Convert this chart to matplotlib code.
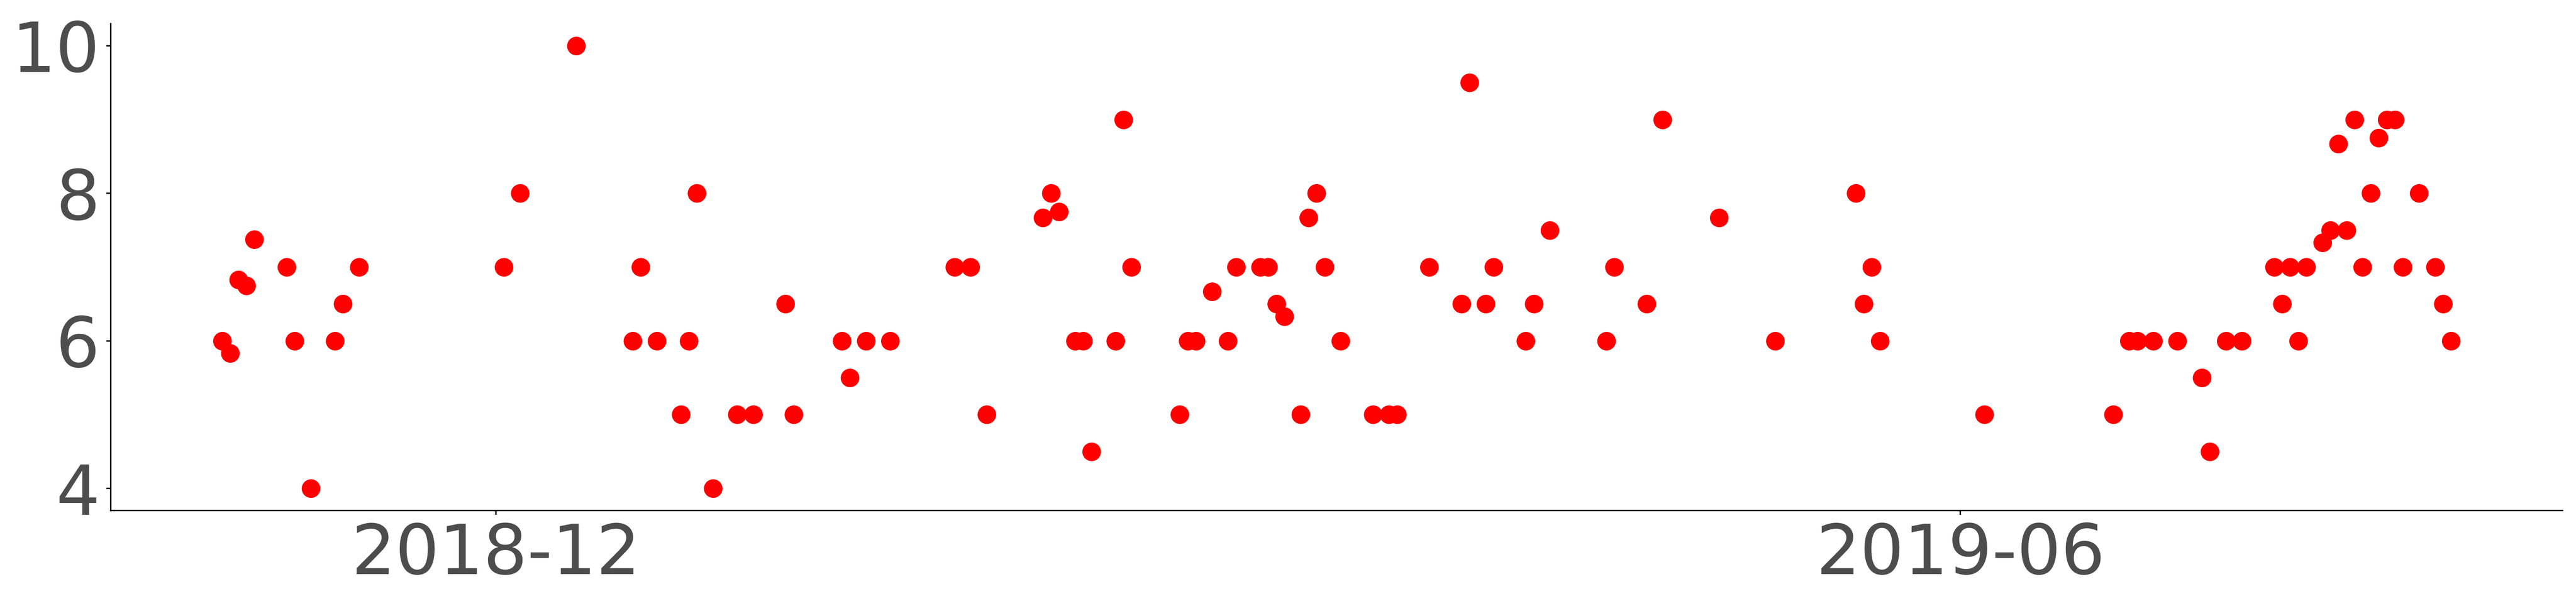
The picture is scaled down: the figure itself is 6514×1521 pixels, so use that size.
import matplotlib
matplotlib.use("Agg")
import matplotlib.pyplot as plt
import matplotlib.dates as mdates
import pandas as pd

dates = [
    "2018-10-28", "2018-10-29", "2018-10-30", "2018-10-31", "2018-11-01",
    "2018-11-05", "2018-11-06", "2018-11-08", "2018-11-11", "2018-11-12",
    "2018-11-14", "2018-12-02", "2018-12-04", "2018-12-11", "2018-12-18",
    "2018-12-19", "2018-12-21", "2018-12-24", "2018-12-25", "2018-12-26",
    "2018-12-28", "2018-12-31", "2019-01-02", "2019-01-06", "2019-01-07",
    "2019-01-13", "2019-01-14", "2019-01-16", "2019-01-19", "2019-01-27",
    "2019-01-29", "2019-01-31", "2019-02-07", "2019-02-08", "2019-02-09",
    "2019-02-11", "2019-02-12", "2019-02-13", "2019-02-16", "2019-02-17",
    "2019-02-18", "2019-02-24", "2019-02-25", "2019-02-26", "2019-02-28",
    "2019-03-02", "2019-03-03", "2019-03-06", "2019-03-07", "2019-03-08",
    "2019-03-09", "2019-03-11", "2019-03-12", "2019-03-13", "2019-03-14",
    "2019-03-16", "2019-03-20", "2019-03-22", "2019-03-23", "2019-03-27",
    "2019-03-31", "2019-04-01", "2019-04-03", "2019-04-04", "2019-04-08",
    "2019-04-09", "2019-04-11", "2019-04-18", "2019-04-19", "2019-04-23",
    "2019-04-25", "2019-05-02", "2019-05-09", "2019-05-19", "2019-05-20",
    "2019-05-21", "2019-05-22", "2019-06-04", "2019-06-20", "2019-06-22",
    "2019-06-23", "2019-06-25", "2019-06-28", "2019-07-01", "2019-07-02",
    "2019-07-04", "2019-07-06", "2019-07-10", "2019-07-11", "2019-07-12",
    "2019-07-13", "2019-07-14", "2019-07-16", "2019-07-17", "2019-07-18",
    "2019-07-19", "2019-07-20", "2019-07-21", "2019-07-22", "2019-07-23",
    "2019-07-24", "2019-07-25", "2019-07-26", "2019-07-28", "2019-07-30",
    "2019-07-31", "2019-08-01",
]
values = [
    6, 5.83, 6.83, 6.75, 7.375,
    7, 6, 4, 6, 6.5,
    7, 7, 8, 10, 6,
    7, 6, 5, 6, 8,
    4, 5, 5, 6.5, 5,
    6, 5.5, 6, 6, 7,
    7, 5, 7.67, 8, 7.75,
    6, 6, 4.5, 6, 9,
    7, 5, 6, 6, 6.67,
    6, 7, 7, 7, 6.5,
    6.33, 5, 7.67, 8, 7,
    6, 5, 5, 5, 7,
    6.5, 9.5, 6.5, 7, 6,
    6.5, 7.5, 6, 7, 6.5,
    9, 7.67, 6, 8, 6.5,
    7, 6, 5, 5, 6,
    6, 6, 6, 5.5, 4.5,
    6, 6, 7, 6.5, 7,
    6, 7, 7.33, 7.5, 8.67,
    7.5, 9, 7, 8, 8.75,
    9, 9, 7, 8, 7,
    6.5, 6,
]
tick_dates = ["2018-12-01", "2019-06-01"]

x = pd.to_datetime(dates)

fig = plt.figure(figsize=(6514 / 300, 1521 / 300), dpi=300)
ax = fig.add_axes([0.043, 0.1505, 0.9518, 0.8101])
ax.plot(x, values, "o", color="red", markersize=11.3, markeredgewidth=0)

ax.set_xticks(pd.to_datetime(tick_dates))
ax.xaxis.set_major_formatter(mdates.DateFormatter("%Y-%m"))
ax.set_yticks([4, 6, 8, 10])

for s in ["top", "right"]:
    ax.spines[s].set_visible(False)
for s in ["left", "bottom"]:
    ax.spines[s].set_linewidth(0.85)
ax.tick_params(axis="both", labelsize=42, labelcolor="#4d4d4d", color="black",
               length=2.6, width=0.85, pad=4)

fig.savefig("out.png", dpi=300)
